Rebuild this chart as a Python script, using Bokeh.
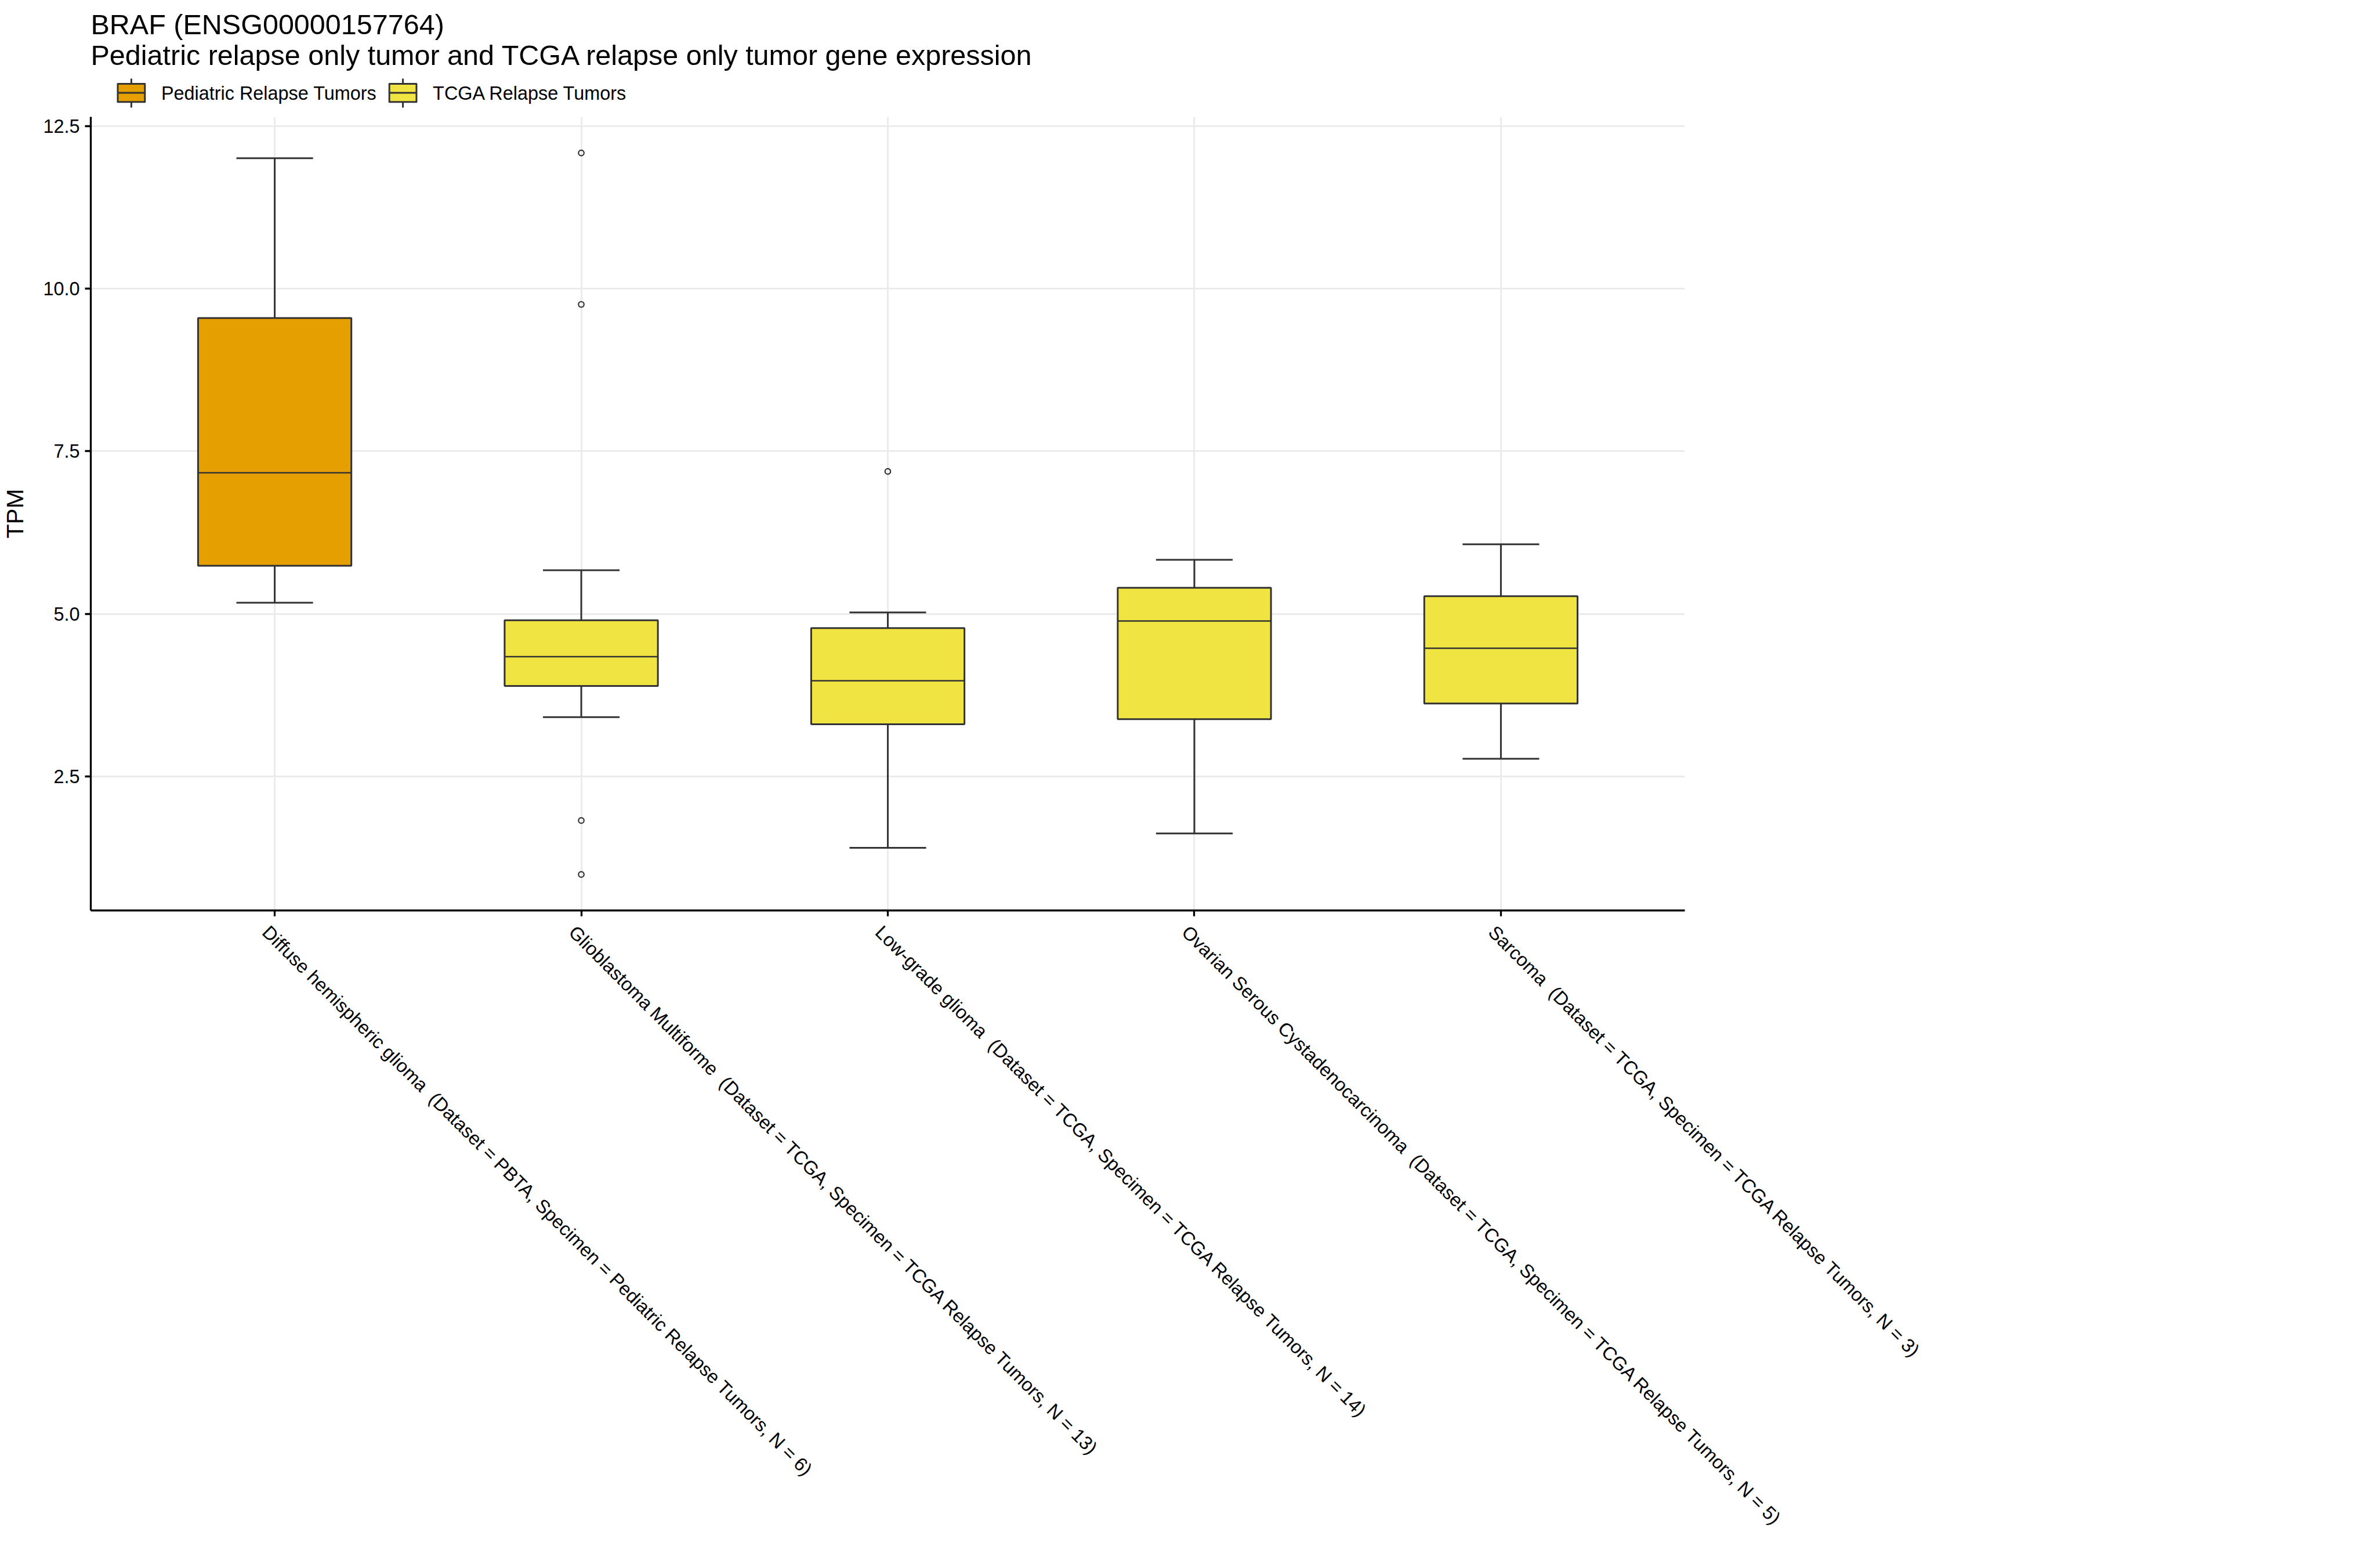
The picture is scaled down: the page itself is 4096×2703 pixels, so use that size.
import math
from bokeh.plotting import figure
from bokeh.layouts import column
from bokeh.models import (ColumnDataSource, Range1d, FixedTicker, PrintfTickFormatter)
from bokeh.core.properties import value
from bokeh.embed import file_html
from bokeh.resources import INLINE

# ---------------- data ----------------
categories = ["Diffuse hemispheric glioma", "Glioblastoma Multiforme", "Low-grade glioma",
              "Ovarian Serous Cystadenocarcinoma", "Sarcoma"]
datasets = ["PBTA", "TCGA", "TCGA", "TCGA", "TCGA"]
specimens = ["Pediatric Relapse Tumors", "TCGA Relapse Tumors", "TCGA Relapse Tumors",
             "TCGA Relapse Tumors", "TCGA Relapse Tumors"]
n_samples = [6, 13, 14, 5, 3]

lower_whisker = [5.17, 3.41, 1.40, 1.62, 2.77]
q1_values = [5.74, 3.89, 3.30, 3.38, 3.62]
median_values = [7.17, 4.34, 3.97, 4.89, 4.47]
q3_values = [9.55, 4.90, 4.78, 5.40, 5.27]
upper_whisker = [12.01, 5.67, 5.02, 5.83, 6.07]

outlier_categories = ["Glioblastoma Multiforme", "Glioblastoma Multiforme", "Glioblastoma Multiforme",
                      "Glioblastoma Multiforme", "Low-grade glioma"]
outlier_values = [12.09, 9.76, 1.82, 0.99, 7.19]

legend_labels = ["Pediatric Relapse Tumors", "TCGA Relapse Tumors"]
legend_colors = ["#E69F00", "#F0E442"]

y_ticks = [2.5, 5.0, 7.5, 10.0, 12.5]

title_line1 = "BRAF (ENSG00000157764)"
title_line2 = "Pediatric relapse only tumor and TCGA relapse only tumor gene expression"
y_label = "TPM"

# ---------------- layout constants ----------------
W, H = 4096, 2703
TOP_H = 191                      # header strip (titles + legend)
MAIN_H = H - TOP_H
FL, FR = 150, 2904               # frame left/right in px
FRAME_TOP_PAD = 10               # main figure border above frame
FRAME_BOTTOM_PAD = 1134
FONT = "Liberation Sans"
SMALL = "32.4px"
BASE = "40.5px"
TITLE = "48.5px"
EDGE = "#333333"

# ---------------- header: titles + legend ----------------
# the column layout aligns this strip's frame with the main frame, so the x range
# is set to the frame's pixel span (data x == page px)
top = figure(width=W, height=TOP_H, output_backend="svg", toolbar_location=None,
             x_range=Range1d(FL, FR), y_range=Range1d(TOP_H, 0),
             x_axis_location=None, y_axis_location=None, min_border=0)
top.outline_line_color = None
top.grid.visible = False
top.background_fill_color = "white"
top.border_fill_color = "white"

top.text(x=[150, 150], y=[41.5, 94.5], text=[title_line1, title_line2],
         text_font=value(FONT), text_font_size=value(TITLE), text_color="black",
         text_baseline="alphabetic", text_align="left")

key_left = [196.6, 665.8]        # legend key boxes (px)
key_w = 46.9
key_top, key_bot = 143.9, 175.3
whisk_top, whisk_bot = 135.1, 185.1
key_mid = (key_top + key_bot) / 2
key_cx = [k + key_w / 2 for k in key_left]
top.segment(x0=key_cx, y0=[whisk_top] * 2, x1=key_cx, y1=[whisk_bot] * 2,
            line_color=EDGE, line_width=3)
top.quad(left=key_left, right=[k + key_w for k in key_left], top=[key_top] * 2,
         bottom=[key_bot] * 2, fill_color=legend_colors, line_color=EDGE, line_width=3,
         line_join="round")
top.segment(x0=key_left, y0=[key_mid] * 2, x1=[k + key_w for k in key_left], y1=[key_mid] * 2,
            line_color=EDGE, line_width=3)
top.text(x=[k + 75.1 for k in key_left], y=[160.5] * 2, text=legend_labels,
         text_font=value(FONT), text_font_size=value(SMALL), text_color="black",
         text_baseline="middle", text_align="left")

# ---------------- main plot ----------------
color_map = dict(zip(legend_labels, legend_colors))
xpos = [i + 1 for i in range(len(categories))]
box_w = 0.5
cap_w = 0.25

src = ColumnDataSource(dict(
    x=xpos,
    q1=q1_values, q3=q3_values, med=median_values,
    lo=lower_whisker, hi=upper_whisker,
    color=[color_map[s] for s in specimens],
    x0=[x - box_w / 2 for x in xpos], x1=[x + box_w / 2 for x in xpos],
    c0=[x - cap_w / 2 for x in xpos], c1=[x + cap_w / 2 for x in xpos],
))

p = figure(width=W, height=MAIN_H, output_backend="svg", toolbar_location=None,
           x_range=Range1d(0.4, 5.6), y_range=Range1d(0.436, 12.645),
           min_border_left=FL, min_border_right=W - FR,
           min_border_top=FRAME_TOP_PAD, min_border_bottom=FRAME_BOTTOM_PAD)
p.title.visible = False
p.outline_line_color = None
p.background_fill_color = "white"
p.border_fill_color = "white"

# grid
p.xgrid.ticker = FixedTicker(ticks=xpos)
p.ygrid.ticker = FixedTicker(ticks=y_ticks)
for g in (p.xgrid[0], p.ygrid[0]):
    g.grid_line_color = "#EBEBEB"
    g.grid_line_width = 3

# x axis: labels anchored slightly left of tick (ggplot rotated text), ticks as minor ticks
dx = 0.03
label_ticks = [round(x - dx, 3) for x in xpos]
xa = p.xaxis[0]
xa.ticker = FixedTicker(ticks=label_ticks, minor_ticks=xpos)
# the reference has two spaces before "(": a no-break space keeps the gap visible in SVG
xa.major_label_overrides = {
    t: f"{c}\u00a0 (Dataset = {d}, Specimen = {s}, N = {n})"
    for t, c, d, s, n in zip(label_ticks, categories, datasets, specimens, n_samples)
}
xa.major_label_orientation = -math.pi / 4
xa.major_tick_out = 0
xa.major_tick_in = 0
xa.major_tick_line_color = None
xa.minor_tick_out = 10
xa.minor_tick_in = 0
xa.minor_tick_line_color = "black"
xa.minor_tick_line_width = 3.3
xa.axis_line_color = "black"
xa.axis_line_width = 3.3
xa.major_label_standoff = 22
xa.major_label_text_font = FONT
xa.major_label_text_font_size = SMALL
xa.major_label_text_color = "black"

# y axis
ya = p.yaxis[0]
ya.ticker = FixedTicker(ticks=y_ticks)
ya.formatter = PrintfTickFormatter(format="%.1f")
ya.major_tick_out = 10
ya.major_tick_in = 0
ya.major_tick_line_color = "black"
ya.major_tick_line_width = 3.3
ya.minor_tick_line_color = None
ya.axis_line_color = "black"
ya.axis_line_width = 3.3
ya.major_label_standoff = 9
ya.major_label_text_font = FONT
ya.major_label_text_font_size = SMALL
ya.major_label_text_color = "black"
ya.axis_label = y_label
ya.axis_label_text_font = FONT
ya.axis_label_text_font_size = BASE
ya.axis_label_text_font_style = "normal"
ya.axis_label_text_color = "black"
ya.axis_label_standoff = 22

# whiskers
p.segment(x0="x", y0="q3", x1="x", y1="hi", source=src, line_color=EDGE, line_width=3)
p.segment(x0="x", y0="q1", x1="x", y1="lo", source=src, line_color=EDGE, line_width=3)
p.segment(x0="c0", y0="hi", x1="c1", y1="hi", source=src, line_color=EDGE, line_width=3)
p.segment(x0="c0", y0="lo", x1="c1", y1="lo", source=src, line_color=EDGE, line_width=3)
# boxes
p.vbar(x="x", width=box_w, bottom="q1", top="q3", source=src,
       fill_color="color", line_color=EDGE, line_width=3)
# medians
p.segment(x0="x0", y0="med", x1="x1", y1="med", source=src, line_color=EDGE, line_width=2.5)
# outliers
ox = [xpos[categories.index(c)] for c in outlier_categories]
p.scatter(x=ox, y=outlier_values, marker="circle", size=9.5, fill_color=None,
          line_color=EDGE, line_width=2.2)

layout = column(top, p, spacing=0)
open("out.html", "w").write(file_html(layout, INLINE))
